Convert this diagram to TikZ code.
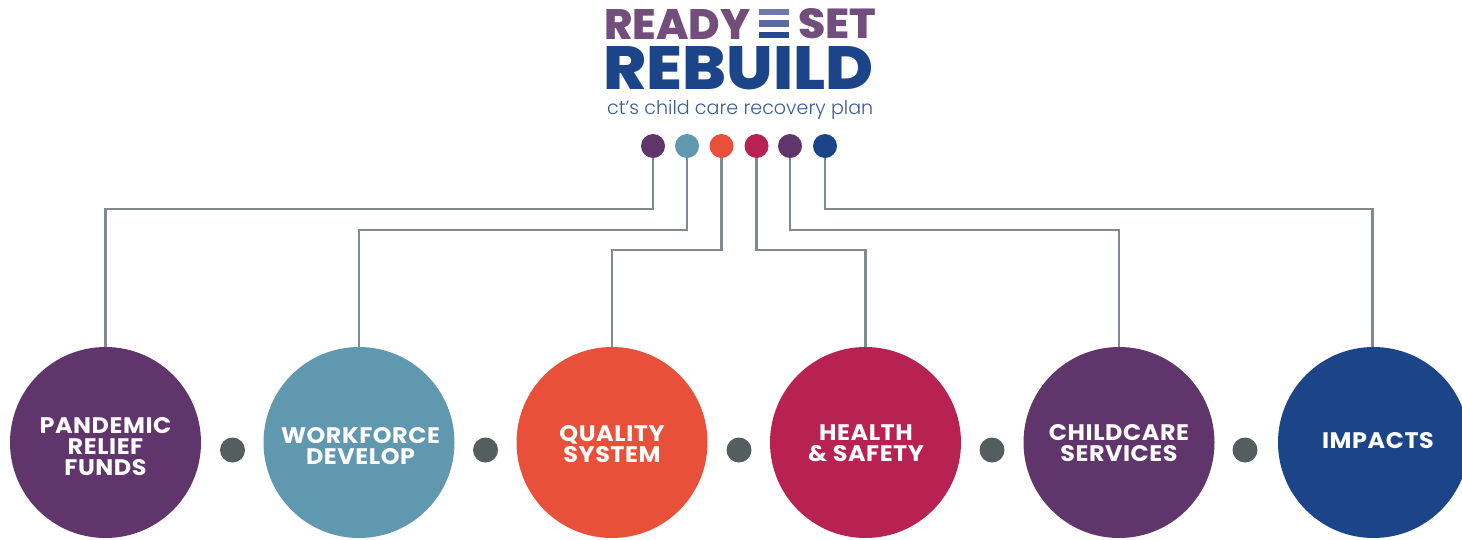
\documentclass[tikz,border=0pt]{standalone}
\usepackage{fontspec}
\usepackage{graphicx}
\setmainfont{Poppins}
\newfontfamily\lblfont[LetterSpace=2.5,FakeStretch=1.06]{Poppins Bold}
\newfontfamily\heavyfont{Poppins ExtraBold}
\newfontfamily\lightfont{Poppins Light}
\definecolor{cpurple}{HTML}{5F356B}
\definecolor{cteal}{HTML}{6098B0}
\definecolor{corange}{HTML}{E8503A}
\definecolor{ccrimson}{HTML}{B82252}
\definecolor{cnavy}{HTML}{1C4489}
\definecolor{cdot}{HTML}{555E5E}
\definecolor{cline}{HTML}{82898F}
\definecolor{cready}{HTML}{724E7C}
\definecolor{csub}{HTML}{3A5A98}
\definecolor{barA}{HTML}{7077AB}
\definecolor{barB}{HTML}{5C6BA0}
\definecolor{barC}{HTML}{2A4A8E}
\tikzset{
  bigc/.style={circle,minimum size=191pt,inner sep=0pt},
  lbl/.style={inner sep=0pt,text=white,align=center,font=\lblfont\fontsize{22.5}{21}\selectfont},
  topdot/.style={circle,minimum size=24pt,inner sep=0pt},
  sepdot/.style={circle,minimum size=25pt,inner sep=0pt,fill=cdot},
  conn/.style={draw=cline,line width=2.8pt},
  logo/.style={inner sep=0pt,outer sep=0pt,anchor=west},
  logobar/.style={rectangle,inner sep=0pt,minimum width=30pt}
}
\begin{document}
\begin{tikzpicture}[x=1pt,y=-1pt]
\useasboundingbox (0,0) rectangle (1462,539);
\clip (0,0) rectangle (1462,539);
% logo
\node[logo,text=cready] (ready) at (604.5,24) {\resizebox{146pt}{30pt}{\heavyfont READY}};
\node[logo,text=cready] (set) at (798,24) {\resizebox{78pt}{30pt}{\heavyfont SET}};
\node[logobar,fill=barA,minimum height=6pt] (barone) at (774,12) {};
\node[logobar,fill=barB,minimum height=7pt] (bartwo) at (774,23.5) {};
\node[logobar,fill=barC,minimum height=6pt] (barthree) at (774,35) {};
\node[logo,text=cnavy] (rebuild) at (603.5,68.5) {\resizebox{270pt}{43pt}{\heavyfont REBUILD}};
\node[inner sep=0pt,text=csub,anchor=base west] (sub) at (607,114.5) {\resizebox{266pt}{!}{\lightfont\fontsize{20}{20}\selectfont ct’s child care recovery plan}};
% top dots
\node[topdot,fill=cpurple] (t1) at (653,146) {};
\node[topdot,fill=cteal] (t2) at (687,146) {};
\node[topdot,fill=corange] (t3) at (721.5,146) {};
\node[topdot,fill=ccrimson] (t4) at (756.5,146) {};
\node[topdot,fill=cpurple] (t5) at (790,146) {};
\node[topdot,fill=cnavy] (t6) at (825,146) {};
% big circles
\node[bigc,fill=cpurple] (c1) at (105.5,442.5) {};
\node[bigc,fill=cteal] (c2) at (359,442.5) {};
\node[bigc,fill=corange] (c3) at (612,442.5) {};
\node[bigc,fill=ccrimson] (c4) at (865.5,442.5) {};
\node[bigc,fill=cpurple] (c5) at (1119,442.5) {};
\node[bigc,fill=cnavy] (c6) at (1373.5,442.5) {};
\coordinate (c6top) at (1372.5,347);
% connectors
\draw[conn] (t1.south) |- (105.5,209) -- (c1.north);
\draw[conn] (t2.south) |- (359,230) -- (c2.north);
\draw[conn] (t3.south) |- (612,250) -- (c3.north);
\draw[conn] (t4.south) |- (865.5,250) -- (c4.north);
\draw[conn] (t5.south) |- (1119,230) -- (c5.north);
\draw[conn] (t6.south) |- (1372.5,209) -- (c6top);
% separators
\node[sepdot] (s1) at (232.5,450) {};
\node[sepdot] (s2) at (485.5,450) {};
\node[sepdot] (s3) at (739,450) {};
\node[sepdot] (s4) at (992,450) {};
\node[sepdot] (s5) at (1245,450) {};
% labels
\node[lbl] (l1) at (105.5,446.5) {PANDEMIC\\RELIEF\\FUNDS};
\node[lbl] (l2) at (360.5,446.5) {WORKFORCE\\DEVELOP};
\node[lbl] (l3) at (612,444.5) {QUALITY\\SYSTEM};
\node[lbl] (l4) at (866,443) {HEALTH\\\& SAFETY};
\node[lbl] (l5) at (1119,443) {CHILDCARE\\SERVICES};
\node[lbl] (l6) at (1378,440.5) {IMPACTS};
\end{tikzpicture}
\end{document}
